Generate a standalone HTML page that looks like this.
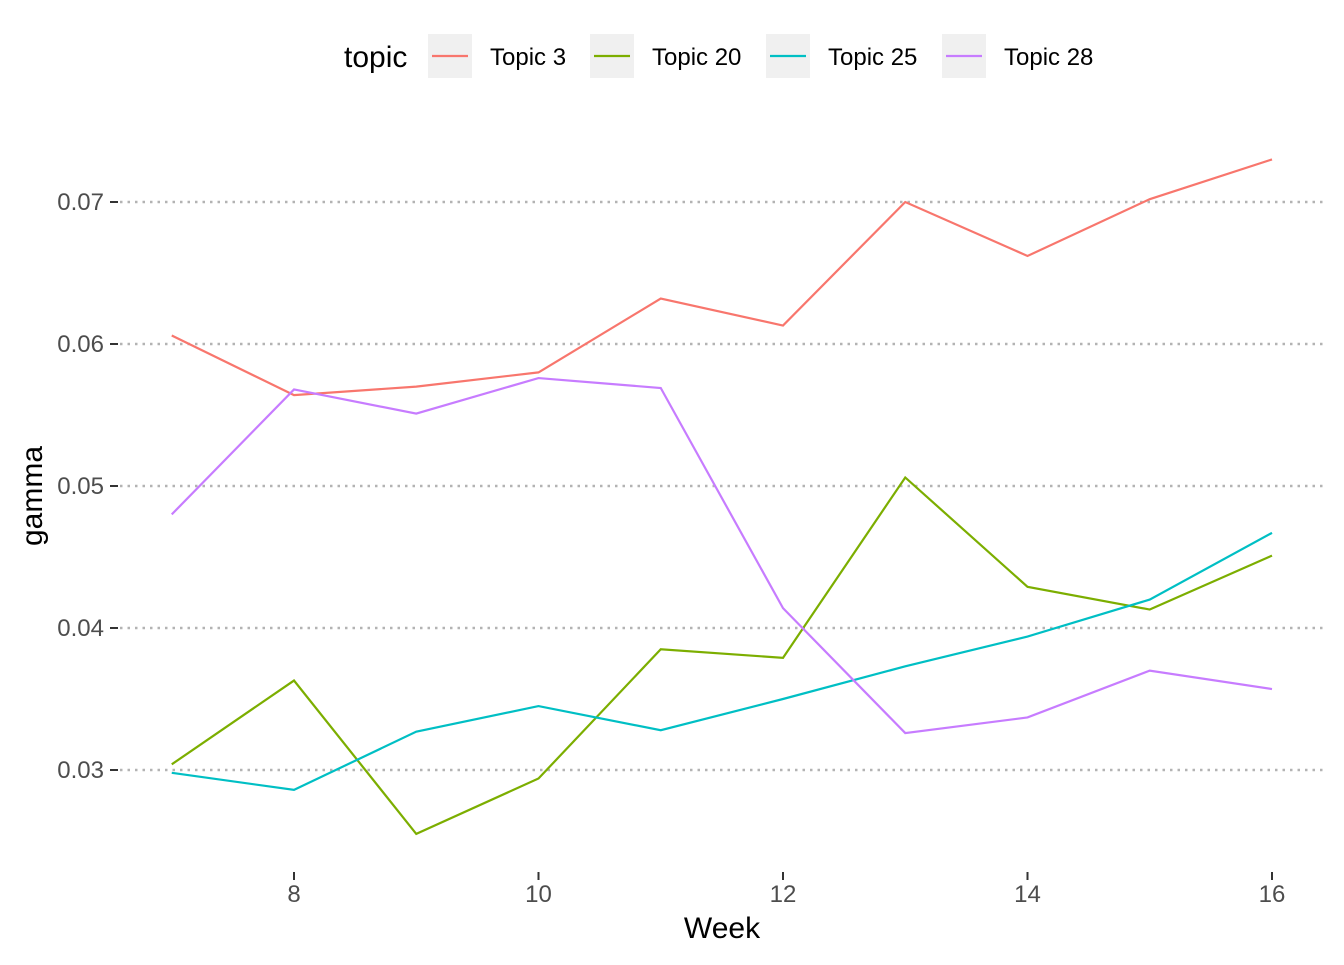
<!DOCTYPE html>
<html><head><meta charset="utf-8"><style>
body{margin:0;background:#fff;font-family:"Liberation Sans",Arial,sans-serif}
</style></head><body>
<svg id="chart" width="1344" height="960" xmlns="http://www.w3.org/2000/svg">
<g id="grid"></g>
<g id="axes"></g>
<g id="lines"></g>
<text x="722" y="938" font-size="30" text-anchor="middle" fill="#000">Week</text>
<text transform="translate(42,496) rotate(-90)" font-size="30" text-anchor="middle" fill="#000">gamma</text>
<g id="legend">
<text x="344" y="67" font-size="30" fill="#000">topic</text>
</g>
</svg>
<script>
const weeks=[7,8,9,10,11,12,13,14,15,16];
const seriesNames=["Topic 3","Topic 20","Topic 25","Topic 28"];
const topic3=[0.0606,0.0564,0.0570,0.0580,0.0632,0.0613,0.0700,0.0662,0.0702,0.0730];
const topic20=[0.0304,0.0363,0.0255,0.0294,0.0385,0.0379,0.0506,0.0429,0.0413,0.0451];
const topic25=[0.0298,0.0286,0.0327,0.0345,0.0328,0.0350,0.0373,0.0394,0.0420,0.0467];
const topic28=[0.0480,0.0568,0.0551,0.0576,0.0569,0.0414,0.0326,0.0337,0.0370,0.0357];
const colors=["#F8766D","#7CAE00","#00BFC4","#C77CFF"];
const yTicks=[0.03,0.04,0.05,0.06,0.07];
const xTicks=[8,10,12,14,16];
const NS="http://www.w3.org/2000/svg";
const xs=w=>294+(w-8)*122.25;
const ys=v=>770-(v-0.03)*14200;
function mk(t,a,p){const e=document.createElementNS(NS,t);for(const k in a)e.setAttribute(k,a[k]);p.appendChild(e);return e;}
const grid=document.getElementById('grid'),axes=document.getElementById('axes'),lines=document.getElementById('lines'),legend=document.getElementById('legend');
yTicks.forEach(v=>{
 const g=mk('line',{x1:120,x2:1326,y1:ys(v),y2:ys(v),stroke:'#b3b3b3','stroke-width':2.5,'stroke-dasharray':'2.5,5'},grid);
 
 
 const tk=mk('line',{x1:110,x2:118,y1:ys(v),y2:ys(v),stroke:'#333','stroke-width':2},axes);
 
 
 const t=mk('text',{x:104,y:ys(v)+8,'font-size':24,'text-anchor':'end',fill:'#4d4d4d'},axes);
 t.textContent=v.toFixed(2);
 
 
});
xTicks.forEach(w=>{
 const tk=mk('line',{x1:xs(w),x2:xs(w),y1:872,y2:880,stroke:'#333','stroke-width':2},axes);
 
 
 const t=mk('text',{x:xs(w),y:902,'font-size':24,'text-anchor':'middle',fill:'#4d4d4d'},axes);
 t.textContent=w;
 
 
});
const data=[topic3,topic20,topic25,topic28];
data.forEach((s,i)=>{
 const p=mk('polyline',{points:s.map((v,j)=>xs(weeks[j])+','+ys(v)).join(' '),fill:'none',stroke:colors[i],'stroke-width':2.2},lines);
 
 
});
const keyX=[428,590,766,942];
seriesNames.forEach((n,i)=>{
 const x=keyX[i];
 const r=mk('rect',{x:x,y:34,width:44,height:44,fill:'#f0f0f0'},legend);
 
 
 mk('line',{x1:x+4,x2:x+40,y1:56,y2:56,stroke:colors[i],'stroke-width':2.2},legend);
 const t=mk('text',{x:x+62,y:65,'font-size':24,fill:'#000'},legend);
 t.textContent=n;
 
 
});
</script>
</body></html>
